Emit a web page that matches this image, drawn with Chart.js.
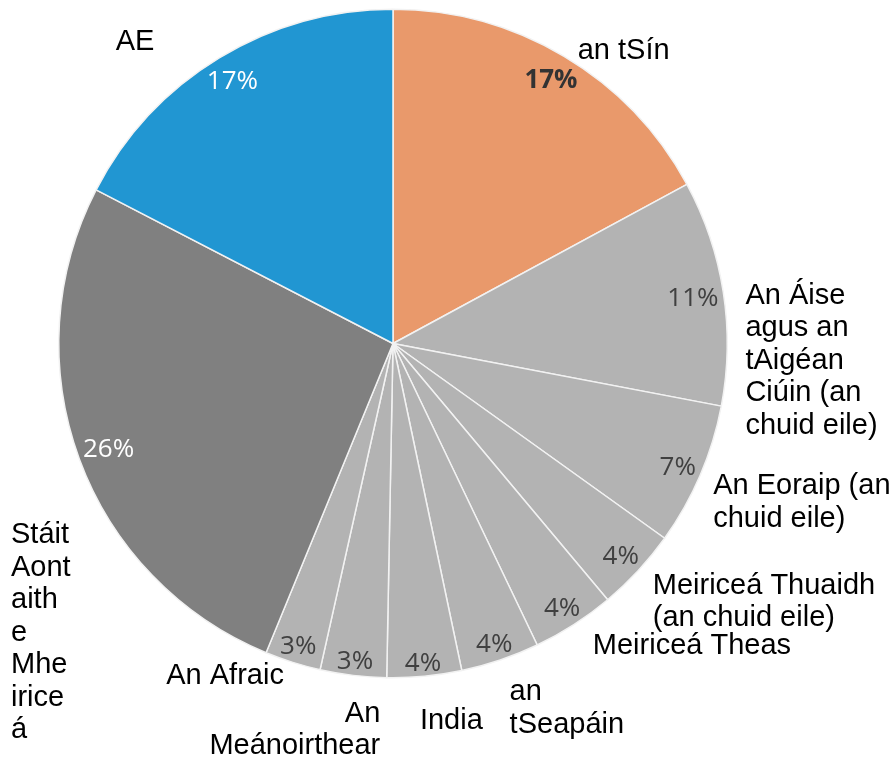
<!DOCTYPE html>
<html>
<head>
<meta charset="utf-8">
<title>Pie chart</title>
<script src="https://cdn.jsdelivr.net/npm/chart.js@4.4.1/dist/chart.umd.min.js"></script>
<style>
    html, body { margin: 0; padding: 0; background: #fff; }
    #wrap { width: 894px; height: 762px; position: relative; }
</style>
</head>
<body>
<div id="wrap"><canvas id="pieChart"></canvas></div>
<script>
// Categories, clockwise from 12 o'clock
const categories = [
    'an tSín',
    'An Áise agus an tAigéan Ciúin (an chuid eile)',
    'An Eoraip (an chuid eile)',
    'Meiriceá Thuaidh (an chuid eile)',
    'Meiriceá Theas',
    'an tSeapáin',
    'India',
    'An Meánoirthear',
    'An Afraic',
    'Stáit Aontaithe Mheiriceá',
    'AE'
];

// Shares (%)
const shares = [17.1, 10.9, 6.9, 4.0, 4.0, 3.8, 3.6, 3.2, 2.7, 26.4, 17.4];

// Label text, wrapped the way it is in the picture
const labelLines = [
    ['an tSín'],
    ['An Áise', 'agus an', 'tAigéan', 'Ciúin (an', 'chuid eile)'],
    ['An Eoraip (an', 'chuid eile)'],
    ['Meiriceá Thuaidh', '(an chuid eile)'],
    ['Meiriceá Theas'],
    ['an', 'tSeapáin'],
    ['India'],
    ['An', 'Meánoirthear'],
    ['An Afraic'],
    ['Stáit', 'Aont', 'aith', 'e', 'Mhe', 'irice', 'á'],
    ['AE']
];

const GREY = '#B3B3B3';
const sliceColors = ['#E9996B', GREY, GREY, GREY, GREY, GREY, GREY, GREY, GREY, '#808080', '#2196D2'];
const pctColors = ['#333333', '#404040', '#404040', '#404040', '#404040', '#404040', '#404040', '#404040', '#404040', '#FFFFFF', '#FFFFFF'];

// nudges of the outside labels from their default spot: [dx, dy, align]
const labelNudge = [
    [31, 15, 'left'],
    [13, 80, 'left'],
    [11, 8, 'left'],
    [37, 0, 'left'],
    [59, -3, 'left'],
    [45, 6, 'left'],
    [23, 16, 'left'],
    [-47, 10, 'right'],
    [-47, -14, 'right'],
    [-1, 129, 'left'],
    [-69, 4, 'right']
];

const LABEL_SIZE = 29;
const LINE_H = 32.5;
const PCT_SIZE = 26;

// Percentages inside the slices + category names outside
const pieLabels = {
    id: 'pieLabels',
    afterDatasetsDraw(chart) {
        const ctx = chart.ctx;
        const arcs = chart.getDatasetMeta(0).data;
        const total = shares.reduce((a, b) => a + b, 0);
        ctx.save();
        ctx.textBaseline = 'alphabetic';
        arcs.forEach((arc, i) => {
            const p = arc.getProps(['x', 'y', 'startAngle', 'endAngle', 'outerRadius'], true);
            const mid = (p.startAngle + p.endAngle) / 2;
            const ux = Math.cos(mid), uy = Math.sin(mid);

            // percentage at the inside end
            ctx.font = (i === 0 ? 'bold ' : '') + PCT_SIZE + 'px "Open Sans", sans-serif';
            const txt = Math.round(shares[i] / total * 100) + '%';
            const w = ctx.measureText(txt).width;
            const h = PCT_SIZE * 0.714;
            const d = p.outerRadius - (Math.abs(ux) * w / 2 + Math.abs(uy) * h / 2) - 4;
            ctx.fillStyle = pctColors[i];
            ctx.textAlign = 'center';
            ctx.fillText(txt, p.x + ux * d, p.y + uy * d + h / 2);

            // category name outside
            ctx.font = LABEL_SIZE + 'px "Liberation Sans", Arial, sans-serif';
            const lines = labelLines[i];
            const bw = Math.max(...lines.map(l => ctx.measureText(l).width));
            const bh = lines.length * LINE_H;
            const ax = p.x + ux * (p.outerRadius + 10);
            const ay = p.y + uy * (p.outerRadius + 10);
            const [dx, dy, align] = labelNudge[i];
            const left = ax + ux * bw / 2 + dx - bw / 2;
            const top = ay + uy * bh / 2 + dy - bh / 2;
            ctx.fillStyle = '#000000';
            ctx.textAlign = align;
            lines.forEach((l, k) => {
                const tx = align === 'right' ? left + bw : left;
                ctx.fillText(l, tx, top + LINE_H * (k + 0.5) + LABEL_SIZE * 0.358);
            });
        });
        ctx.restore();
    }
};

document.addEventListener('DOMContentLoaded', function() {
    const canvas = document.getElementById('pieChart');
    new Chart(canvas.getContext('2d'), {
        type: 'pie',
        data: {
            labels: categories,
            datasets: [{
                data: shares,
                backgroundColor: sliceColors,
                borderColor: '#F2F2F2',
                borderWidth: 1.5
            }]
        },
        options: {
            responsive: true,
            maintainAspectRatio: false,
            animation: false,
            layout: {
                padding: { left: 58, right: 166, top: 8, bottom: 83 }
            },
            plugins: {
                legend: { display: false },
                tooltip: { enabled: false }
            }
        },
        plugins: [pieLabels]
    });
});
</script>
</body>
</html>
